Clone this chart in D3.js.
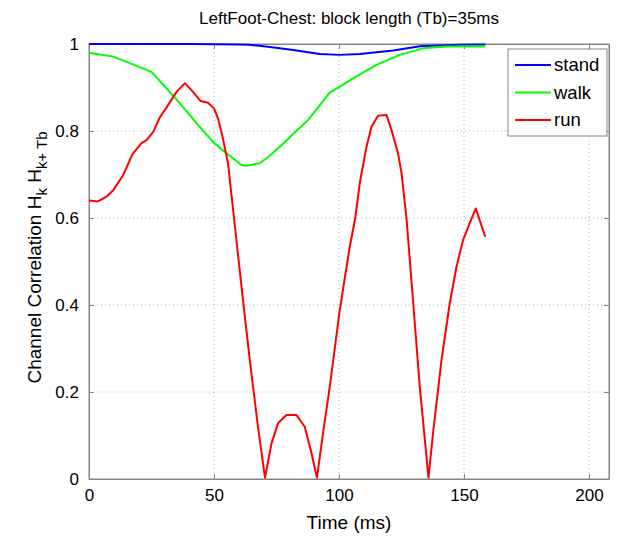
<!DOCTYPE html>
<html>
<head>
<meta charset="utf-8">
<script src="https://cdn.jsdelivr.net/npm/d3@7"></script>
<style>
  body { margin: 0; background: #fff; }
  svg { font-family: "Liberation Sans", Arial, Helvetica, sans-serif; }
</style>
</head>
<body>
<svg id="chart" width="626" height="536"></svg>
<script>
// series: time (ms) and correlation
const standT = [0, 20, 40, 60, 64, 68.3, 76.3, 81.7, 92.3, 100.3, 108.3, 121.7, 132.3, 148.3, 158.5];
const standV = [1, 1, 1, 0.999, 0.998, 0.996, 0.990, 0.986, 0.977, 0.975, 0.977, 0.985, 0.995, 0.998, 0.999];

const walkT = [0, 9.7, 16.3, 25, 31, 36.3, 43, 49.6, 55, 61, 63, 68.3, 72.3, 76.3, 82, 87.6, 96.3, 100.3, 105.6, 115, 124.3, 133.6, 143, 158.5];
const walkV = [0.980, 0.971, 0.956, 0.936, 0.898, 0.864, 0.818, 0.775, 0.749, 0.722, 0.720, 0.726, 0.743, 0.764, 0.795, 0.825, 0.888, 0.902, 0.921, 0.952, 0.975, 0.990, 0.994, 0.994];

const runT = [0, 3.6, 7, 9.7, 13.7, 17.4, 21, 23, 25.7, 28.3, 31.7, 35, 38.4, 41.6, 44.6, 47.6, 50, 51.6, 53.4, 55.6, 58, 61.6, 64.3, 67.6, 70.4, 73, 75.6, 79, 83, 86.3, 89, 91.2, 93.6, 96.3, 100.3, 104.3, 106.5, 108.3, 111, 113, 115.6, 119, 121, 123.6, 125, 127, 129.6, 132.3, 135.8, 137.6, 141, 144.3, 147, 149.6, 152.3, 154.7, 158.5];
const runV = [0.640, 0.638, 0.649, 0.664, 0.699, 0.747, 0.772, 0.779, 0.798, 0.831, 0.860, 0.890, 0.910, 0.890, 0.869, 0.865, 0.852, 0.829, 0.787, 0.726, 0.600, 0.411, 0.274, 0.120, 0.003, 0.082, 0.128, 0.147, 0.147, 0.120, 0.059, 0.003, 0.105, 0.212, 0.388, 0.534, 0.600, 0.680, 0.764, 0.810, 0.835, 0.837, 0.802, 0.749, 0.703, 0.599, 0.411, 0.212, 0.003, 0.105, 0.274, 0.404, 0.488, 0.549, 0.588, 0.622, 0.557];

const seriesNames = ["stand", "walk", "run"];
const seriesColors = ["#0000ff", "#00ff00", "#ff0000"];
const xTicks = [0, 50, 100, 150, 200];
const yTicks = [0, 0.2, 0.4, 0.6, 0.8, 1];

const series = [
  { name: seriesNames[0], color: seriesColors[0], pts: d3.zip(standT, standV) },
  { name: seriesNames[1], color: seriesColors[1], pts: d3.zip(walkT, walkV) },
  { name: seriesNames[2], color: seriesColors[2], pts: d3.zip(runT, runV) }
];

const margin = { top: 44, right: 17, bottom: 57, left: 89 };
const svg = d3.select("#chart");
const width = 626 - margin.left - margin.right;
const height = 536 - margin.top - margin.bottom;

const x = d3.scaleLinear().domain([0, 208]).range([0, width]);
const y = d3.scaleLinear().domain([0, 1]).range([height, 0]);

const g = svg.append("g").attr("transform", `translate(${margin.left},${margin.top})`);

// grid
g.append("g").selectAll("line").data(xTicks.filter(d => d > 0)).join("line")
  .attr("x1", d => x(d)).attr("x2", d => x(d)).attr("y1", 0).attr("y2", height)
  .attr("stroke", "#b0b0b0").attr("stroke-dasharray", "1,3");
g.append("g").selectAll("line").data(yTicks.filter(d => d > 0 && d < 1)).join("line")
  .attr("x1", 0).attr("x2", width).attr("y1", d => y(d)).attr("y2", d => y(d))
  .attr("stroke", "#b0b0b0").attr("stroke-dasharray", "1,3");

// axes (ticks inside, like matlab)
g.append("g").attr("transform", `translate(0,${height})`)
  .call(d3.axisBottom(x).tickValues(xTicks).tickSizeInner(-5).tickSizeOuter(0).tickPadding(10));
g.append("g")
  .call(d3.axisLeft(y).tickValues(yTicks).tickFormat(d3.format("")).tickSizeInner(-5).tickSizeOuter(0).tickPadding(10));
g.append("g").call(d3.axisTop(x).tickValues(xTicks).tickSizeInner(-5).tickSizeOuter(0).tickFormat(""));
g.append("g").attr("transform", `translate(${width},0)`)
  .call(d3.axisRight(y).tickValues(yTicks).tickSizeInner(-5).tickSizeOuter(0).tickFormat(""));
g.selectAll(".domain, .tick line").attr("stroke", "#858585");
g.selectAll(".tick text").attr("font-size", 17).attr("fill", "#000")
  .attr("font-family", "'Liberation Sans', Arial, sans-serif");
g.append("rect").attr("width", width).attr("height", height)
  .attr("fill", "none").attr("stroke", "#858585");

// lines
const line = d3.line().x(d => x(d[0])).y(d => y(d[1]));
g.selectAll(".series").data(series).join("path")
  .attr("class", "series")
  .attr("d", d => line(d.pts))
  .attr("fill", "none")
  .attr("stroke", d => d.color)
  .attr("stroke-width", 2)
  .attr("stroke-linejoin", "round");

// legend
const lg = g.append("g").attr("transform", `translate(${width - 101},5)`);
lg.append("rect").attr("width", 99).attr("height", 87)
  .attr("fill", "#fff").attr("stroke", "#858585");
const items = lg.selectAll(".item").data(series).join("g")
  .attr("transform", (d, i) => `translate(0,${16 + i * 27.5})`);
items.append("line").attr("x1", 7).attr("x2", 43)
  .attr("stroke", d => d.color).attr("stroke-width", 2);
items.append("text").attr("x", 46).attr("dy", "0.35em")
  .attr("font-size", 18.5).text(d => d.name);

// title + labels
svg.append("text").attr("x", margin.left + width / 2).attr("y", 24)
  .attr("text-anchor", "middle").attr("font-size", 17)
  .text("LeftFoot-Chest: block length (Tb)=35ms");
svg.append("text").attr("x", margin.left + width / 2).attr("y", 529)
  .attr("text-anchor", "middle").attr("font-size", 19)
  .text("Time (ms)");

const yl = svg.append("text")
  .attr("transform", `translate(41,${margin.top + height / 2 - 4}) rotate(-90)`)
  .attr("text-anchor", "middle").attr("font-size", 19);
yl.append("tspan").text("Channel Correlation H");
yl.append("tspan").attr("font-size", 15).attr("dy", 6).text("k");
yl.append("tspan").attr("dy", -6).text(" H");
yl.append("tspan").attr("font-size", 15).attr("dy", 6).text("k+ Tb");
</script>
</body>
</html>
